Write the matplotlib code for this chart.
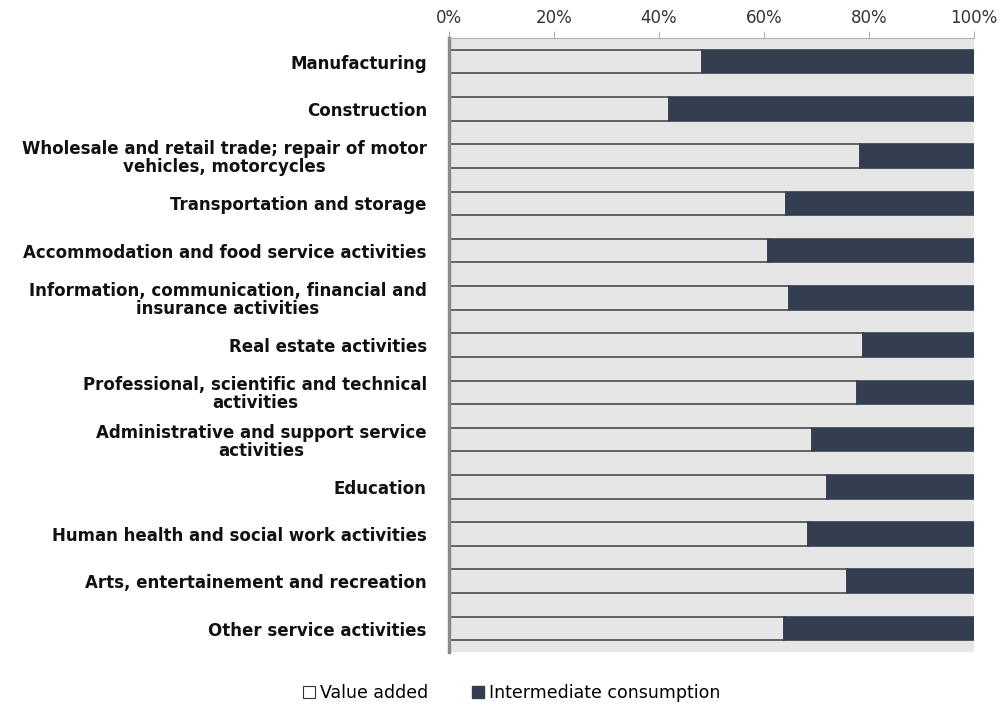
import matplotlib.pyplot as plt
from matplotlib.patches import Patch

categories = [
    "Manufacturing",
    "Construction",
    "Wholesale and retail trade; repair of motor\nvehicles, motorcycles",
    "Transportation and storage",
    "Accommodation and food service activities",
    "Information, communication, financial and\ninsurance activities",
    "Real estate activities",
    "Professional, scientific and technical\nactivities",
    "Administrative and support service\nactivities",
    "Education",
    "Human health and social work activities",
    "Arts, entertainement and recreation",
    "Other service activities",
]
value_added = [48.2, 41.9, 78.3, 64.2, 60.8, 64.8, 78.9, 77.7, 69.1, 72.0, 68.4, 75.8, 63.8]
intermediate = [100 - v for v in value_added]

bg = "#e6e6e6"
dark = "#333e50"
edge = "#4a4a4a"

fig = plt.figure(figsize=(10.03, 7.05), dpi=100)
ax = fig.add_axes([0.4477, 0.075, 0.5234, 0.871])
ax.set_facecolor(bg)

y = list(range(len(categories)))
ax.barh(y, value_added, height=0.5, color=bg, edgecolor=edge, linewidth=1.2)
ax.barh(y, intermediate, left=value_added, height=0.5, color=dark, edgecolor=dark, linewidth=1.2)

ax.set_xlim(0, 100)
ax.set_ylim(len(categories) - 0.5, -0.5)
ax.xaxis.tick_top()
ax.set_xticks([0, 20, 40, 60, 80, 100])
ax.set_xticklabels([f"{t}%" for t in [0, 20, 40, 60, 80, 100]])
ax.tick_params(axis="x", length=5, color="#b0b0b0", labelsize=12, labelcolor="#333333", pad=3)
ax.set_yticks(y)
ax.set_yticklabels(categories, fontsize=12, fontweight="bold", ha="right",
                   multialignment="center", linespacing=1.0, color="#111111")
ax.tick_params(axis="y", length=0, pad=16)

for side in ["right", "bottom"]:
    ax.spines[side].set_visible(False)
ax.spines["top"].set_color("#b0b0b0")
ax.spines["left"].set_color("#8a8a8a")
ax.spines["left"].set_linewidth(2.5)

handles = [
    Patch(facecolor="white", edgecolor="#333333", linewidth=0.8, label="Value added"),
    Patch(facecolor=dark, edgecolor=dark, label="Intermediate consumption"),
]
fig.legend(handles=handles, loc="center", bbox_to_anchor=(0.51, 0.017), ncol=2, frameon=False,
           fontsize=12.5, handlelength=0.7, handleheight=0.7, handletextpad=0.3, columnspacing=2.5)

fig.savefig("out.png", dpi=100)
